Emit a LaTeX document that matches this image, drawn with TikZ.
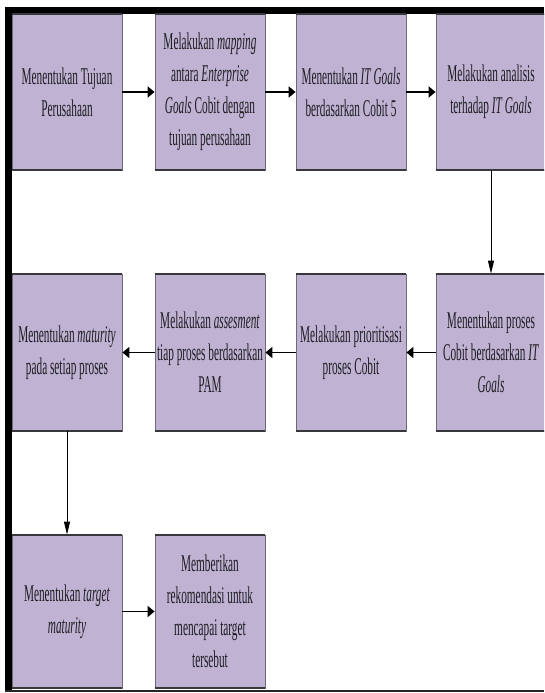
\documentclass[tikz,border=0pt]{standalone}
\usepackage{fontspec}
\setmainfont[FakeStretch=0.47]{Liberation Serif}
\usetikzlibrary{arrows.meta}
\definecolor{boxfill}{RGB}{191,178,211}
\definecolor{boxedge}{RGB}{55,55,60}
\definecolor{sideedge}{RGB}{110,105,120}
\definecolor{txt}{RGB}{30,30,35}
\tikzset{
  stepbox/.style={rectangle, fill=boxfill, draw=sideedge, line width=0.8pt,
    inner sep=0pt, minimum width=110pt, align=center, text=txt,
    font=\fontsize{24}{32}\selectfont,
    append after command={
      (\tikzlastnode.north west) edge[draw=boxedge, line width=2pt, shorten >=0pt] (\tikzlastnode.north east)
      (\tikzlastnode.south west) edge[draw=boxedge, line width=2pt] (\tikzlastnode.south east)}},
  harrow/.style={line width=1.8pt, -{Triangle[length=7pt,width=11pt]}},
  varrow/.style={line width=0.9pt, -{Triangle[length=13pt,width=6pt]}}
}
\begin{document}
\begin{tikzpicture}[x=1pt,y=1pt]
\useasboundingbox (0,0) rectangle (544,-693);
\begin{scope}
\clip (0,0) rectangle (544,-693);
% frame
\fill[black] (5,-7) rectangle (544,-14);
\fill[black] (5,-7) rectangle (12,-692);
\draw[line width=2pt, black!85] (5,-691) -- (544,-691);
% row 1
\node[stepbox, minimum height=156pt] (b1) at (67,-92) {Menentukan Tujuan\\Perusahaan};
\node[stepbox, minimum height=156pt] (b2) at (210,-92) {Melakukan \textit{mapping}\\antara \textit{Enterprise}\\\textit{Goals} Cobit dengan\\tujuan perusahaan};
\node[stepbox, minimum height=156pt] (b3) at (351,-92) {Menentukan \textit{IT Goals}\\berdasarkan Cobit 5};
\node[stepbox, minimum height=156pt] (b4) at (491,-92) {Melakukan analisis\\terhadap \textit{IT Goals}};
% row 2
\node[stepbox, minimum height=157pt] (b5) at (67,-352.5) {Menentukan \textit{maturity}\\pada setiap proses};
\node[stepbox, minimum height=157pt] (b6) at (210,-352.5) {Melakukan \textit{assesment}\\tiap proses berdasarkan\\PAM};
\node[stepbox, minimum height=157pt] (b7) at (351,-352.5) {Melakukan prioritisasi\\proses Cobit};
\node[stepbox, minimum height=157pt] (b8) at (491,-352.5) {Menentukan proses\\Cobit berdasarkan \textit{IT}\\\textit{Goals}};
% row 3
\node[stepbox, minimum height=153pt] (b9) at (67,-611.5) {Menentukan \textit{target}\\\textit{maturity}};
\node[stepbox, minimum height=153pt] (b10) at (210,-611.5) {Memberikan\\rekomendasi untuk\\mencapai target\\tersebut};
% connectors
\draw[harrow] (b1) -- (b2);
\draw[harrow] (b2) -- (b3);
\draw[harrow] (b3) -- (b4);
\draw[varrow] (b4) -- (b8);
\draw[harrow] (b8) -- (b7);
\draw[harrow] (b7) -- (b6);
\draw[harrow] (b6) -- (b5);
\draw[varrow] (b5) -- (b9);
\draw[harrow] (b9) -- (b10);
\end{scope}
\end{tikzpicture}
\end{document}
